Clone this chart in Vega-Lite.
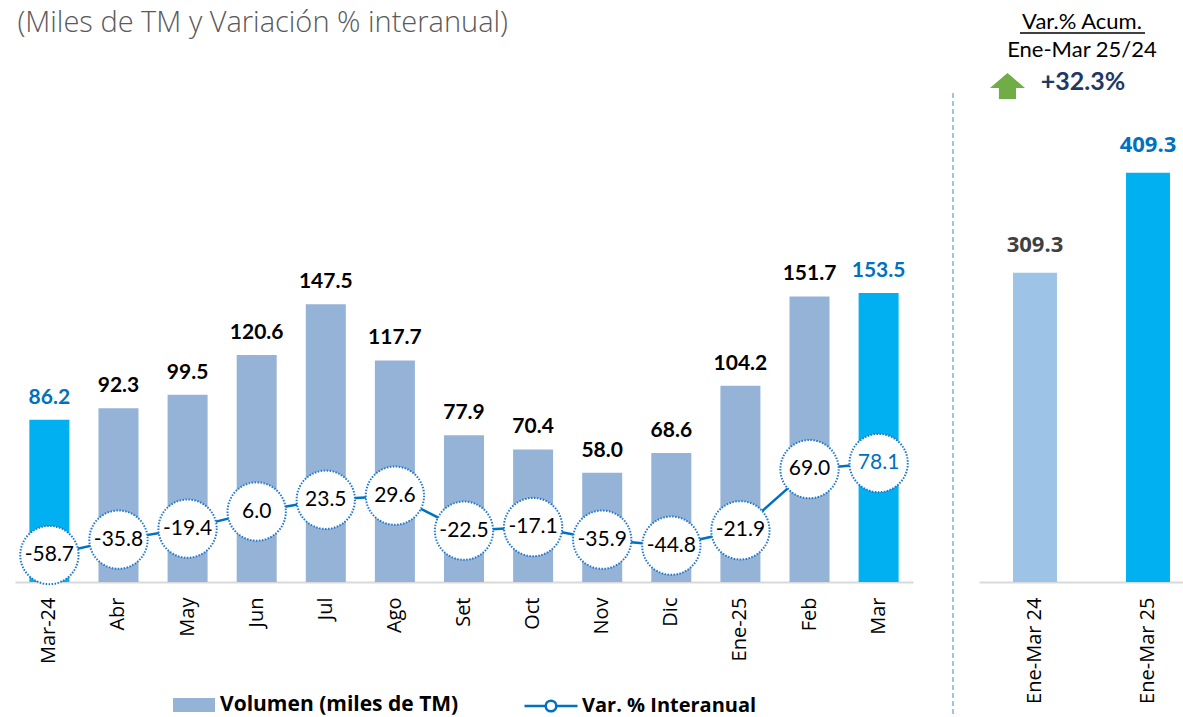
{
  "$schema": "https://vega.github.io/schema/vega-lite/v6.json",
  "padding": {"left": 15, "top": 0, "right": 0, "bottom": 0},
  "background": "white",
  "bounds": "flush",
  "spacing": 66,
  "config": {
    "view": {"stroke": null},
    "font": "Lato",
    "locale": {
      "number": {"decimal": ".", "thousands": ",", "grouping": [3], "currency": ["$", ""], "minus": "-"}
    }
  },
  "hconcat": [
    {
      "width": 898,
      "height": 582,
      "data": {
        "values": [
          {"mes": "Mar-24", "vol": 86.2, "var": -58.7},
          {"mes": "Abr", "vol": 92.3, "var": -35.8},
          {"mes": "May", "vol": 99.5, "var": -19.4},
          {"mes": "Jun", "vol": 120.6, "var": 6.0},
          {"mes": "Jul", "vol": 147.5, "var": 23.5},
          {"mes": "Ago", "vol": 117.7, "var": 29.6},
          {"mes": "Set", "vol": 77.9, "var": -22.5},
          {"mes": "Oct", "vol": 70.4, "var": -17.1},
          {"mes": "Nov", "vol": 58.0, "var": -35.9},
          {"mes": "Dic", "vol": 68.6, "var": -44.8},
          {"mes": "Ene-25", "vol": 104.2, "var": -21.9},
          {"mes": "Feb", "vol": 151.7, "var": 69.0},
          {"mes": "Mar", "vol": 153.5, "var": 78.1}
        ]
      },
      "layer": [
        {
          "encoding": {
            "x": {
              "field": "mes",
              "type": "nominal",
              "sort": null,
              "scale": {
                "domain": ["Mar-24", "Abr", "May", "Jun", "Jul", "Ago", "Set", "Oct", "Nov", "Dic", "Ene-25", "Feb", "Mar"],
                "paddingInner": 0.421,
                "paddingOuter": 0.208
              },
              "axis": {
                "title": null,
                "labelAngle": -90,
                "labelAlign": "right",
                "labelBaseline": "middle",
                "labelFont": "Open Sans",
                "labelFontSize": 20,
                "labelColor": "#000000",
                "labelPadding": 15,
                "ticks": false,
                "tickSize": 0,
                "domainColor": "#D9D9D9",
                "domainWidth": 2,
                "grid": false
              }
            },
            "y": {
              "field": "vol",
              "type": "quantitative",
              "scale": {"domain": [0, 309.2], "nice": false, "zero": true},
              "axis": null
            }
          },
          "layer": [
            {
              "mark": {"type": "bar"},
              "encoding": {
                "fill": {
                  "condition": {"test": "datum.mes === 'Mar-24' || datum.mes === 'Mar'", "value": "#00B0F0"},
                  "datum": "Volumen (miles de TM)",
                  "type": "nominal",
                  "scale": {"range": ["#95B3D7"]},
                  "legend": {
                    "orient": "none",
                    "legendX": 158,
                    "legendY": 684,
                    "title": null,
                    "symbolType": "M-1,-0.33H1V0.33H-1Z",
                    "symbolSize": 1764,
                    "symbolStrokeWidth": 0,
                    "labelFont": "Open Sans",
                    "labelFontSize": 21,
                    "labelFontWeight": "bold",
                    "labelColor": "#000000",
                    "labelOffset": 5,
                    "labelLimit": 0,
                    "padding": 0
                  }
                }
              }
            },
            {
              "mark": {"type": "text", "font": "Lato", "fontSize": 21, "fontWeight": "bold", "baseline": "alphabetic", "dy": -16},
              "encoding": {
                "text": {"field": "vol", "type": "quantitative", "format": ".1f"},
                "color": {
                  "condition": {"test": "datum.mes === 'Mar-24' || datum.mes === 'Mar'", "value": "#0070C0"},
                  "value": "#000000"
                }
              }
            },
            {
              "transform": [{"filter": "datum.mes === 'Mar-24'"}],
              "mark": {"type": "text", "font": "Open Sans", "fontSize": 29, "fontWeight": 300, "align": "left", "baseline": "alphabetic", "dx": -32, "color": "#595959"},
              "encoding": {
                "y": {"datum": 292.2},
                "text": {"value": "(Miles de TM y Variación % interanual)"}
              }
            }
          ]
        },
        {
          "encoding": {
            "x": {"field": "mes", "type": "nominal", "sort": null},
            "y": {
              "field": "var",
              "type": "quantitative",
              "scale": {"domain": [-98.8, 766.6], "nice": false, "zero": false},
              "axis": null
            }
          },
          "layer": [
            {
              "mark": {"type": "line", "strokeWidth": 2.5},
              "encoding": {
                "stroke": {
                  "datum": "Var. % Interanual",
                  "type": "nominal",
                  "scale": {"range": ["#0070C0"]},
                  "legend": {
                    "orient": "none",
                    "legendX": 508,
                    "legendY": 678,
                    "title": null,
                    "symbolType": "M-1,0H-0.2M0.2,0H1M-0.2,0A0.2,0.2 0 1,1 0.2,0A0.2,0.2 0 1,1 -0.2,0",
                    "symbolSize": 2809,
                    "symbolStrokeWidth": 2.5,
                    "labelFont": "Open Sans",
                    "labelFontSize": 20,
                    "labelFontWeight": "bold",
                    "labelColor": "#000000",
                    "labelOffset": 3,
                    "labelLimit": 0,
                    "padding": 0
                  }
                }
              }
            },
            {
              "mark": {"type": "point", "filled": true, "fill": "#FFFFFF", "fillOpacity": 1, "opacity": 1, "stroke": "#1F78CC", "strokeWidth": 2, "strokeDash": [1.5, 1.5], "size": 3400}
            },
            {
              "mark": {"type": "text", "font": "Lato", "fontSize": 21},
              "encoding": {
                "text": {"field": "var", "type": "quantitative", "format": ".1f"},
                "color": {"condition": {"test": "datum.mes === 'Mar'", "value": "#0070C0"}, "value": "#000000"},
                "fontWeight": {"condition": {"test": "datum.mes === 'Mar'", "value": "bold"}, "value": "normal"}
              }
            }
          ]
        }
      ],
      "resolve": {"scale": {"y": "independent"}}
    },
    {
      "width": 204,
      "height": 582,
      "data": {
        "values": [
          {"periodo": "Ene-Mar 24", "vol": 309.3},
          {"periodo": "Ene-Mar 25", "vol": 409.3}
        ]
      },
      "encoding": {
        "x": {
          "field": "periodo",
          "type": "nominal",
          "sort": null,
          "scale": {"domain": ["Ene-Mar 24", "Ene-Mar 25"], "paddingInner": 0.611, "paddingOuter": 0.208, "align": 0.723},
          "axis": {
            "title": null,
            "labelAngle": -90,
            "labelAlign": "right",
            "labelBaseline": "middle",
            "labelFont": "Open Sans",
            "labelFontSize": 20,
            "labelColor": "#000000",
            "labelPadding": 15,
            "ticks": false,
            "tickSize": 0,
            "domainColor": "#D9D9D9",
            "domainWidth": 2,
            "grid": false
          }
        },
        "y": {
          "field": "vol",
          "type": "quantitative",
          "scale": {"domain": [0, 582], "nice": false, "zero": true},
          "axis": null
        }
      },
      "layer": [
        {
          "mark": {"type": "bar"},
          "encoding": {
            "fill": {"condition": {"test": "datum.periodo === 'Ene-Mar 25'", "value": "#00B0F0"}, "value": "#9DC3E6"}
          }
        },
        {
          "mark": {"type": "text", "font": "Open Sans", "fontSize": 22, "fontWeight": "bold", "baseline": "alphabetic", "dy": -21},
          "encoding": {
            "text": {"field": "vol", "type": "quantitative", "format": ".1f"},
            "color": {"condition": {"test": "datum.periodo === 'Ene-Mar 25'", "value": "#0070C0"}, "value": "#404040"}
          }
        },
        {
          "transform": [{"filter": "datum.periodo === 'Ene-Mar 24'"}],
          "mark": {"type": "rule", "xOffset": -82, "stroke": "#9DC3E6", "strokeWidth": 2, "strokeDash": [5, 3]},
          "encoding": {
            "y": {"datum": 489},
            "y2": {"datum": -134}
          }
        },
        {
          "transform": [{"filter": "datum.periodo === 'Ene-Mar 24'"}],
          "mark": {"type": "text", "font": "Lato", "fontSize": 22, "align": "center", "baseline": "alphabetic", "dx": 47, "color": "#000000"},
          "encoding": {
            "y": {"datum": 553},
            "text": {"value": "Var.% Acum."}
          }
        },
        {
          "transform": [{"filter": "datum.periodo === 'Ene-Mar 24'"}],
          "mark": {"type": "rule", "xOffset": -15, "x2Offset": -3, "stroke": "#000000", "strokeWidth": 1.5},
          "encoding": {
            "x2": {"datum": "Ene-Mar 25"},
            "y": {"datum": 549}
          }
        },
        {
          "transform": [{"filter": "datum.periodo === 'Ene-Mar 24'"}],
          "mark": {"type": "text", "font": "Lato", "fontSize": 22, "align": "center", "baseline": "alphabetic", "dx": 47, "color": "#000000"},
          "encoding": {
            "y": {"datum": 525},
            "text": {"value": "Ene-Mar 25/24"}
          }
        },
        {
          "transform": [{"filter": "datum.periodo === 'Ene-Mar 24'"}],
          "mark": {"type": "text", "font": "Lato", "fontSize": 25, "fontWeight": "bold", "align": "center", "baseline": "alphabetic", "dx": 48, "color": "#1F3864"},
          "encoding": {
            "y": {"datum": 492},
            "text": {"value": "+32.3%"}
          }
        },
        {
          "transform": [{"filter": "datum.periodo === 'Ene-Mar 24'"}],
          "mark": {"type": "point", "shape": "M0,-0.74L1,0.11H0.49V0.74H-0.49V0.11H-1Z", "size": 1225, "filled": true, "fill": "#70AD47", "opacity": 1, "strokeWidth": 0, "xOffset": -27.5},
          "encoding": {
            "y": {"datum": 496}
          }
        }
      ]
    }
  ]
}
